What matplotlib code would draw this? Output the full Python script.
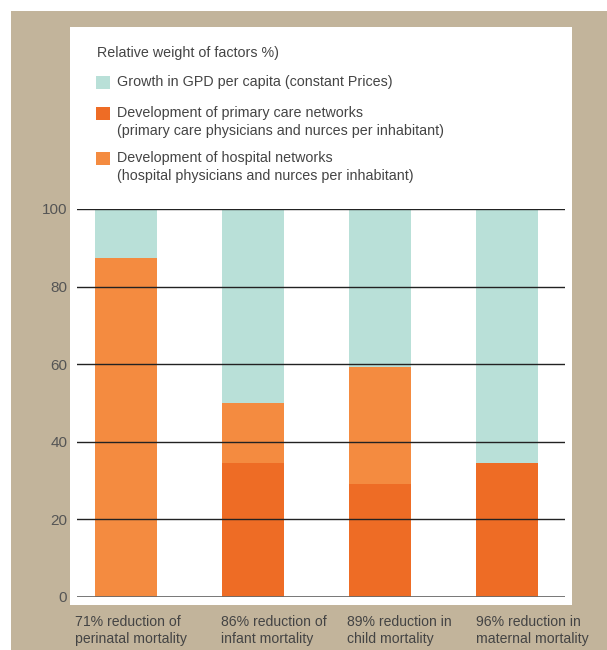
import numpy as np
import matplotlib.pyplot as plt
from matplotlib.patches import Rectangle

plt.rcParams['font.family'] = ['Liberation Sans', 'DejaVu Sans']

categories = ["71% reduction of\nperinatal mortality",
              "86% reduction of\ninfant mortality",
              "89% reduction in\nchild mortality",
              "96% reduction in\nmaternal mortality"]
primary = np.array([0, 34.5, 29, 34.5])
hospital = np.array([87.5, 15.5, 30.3, 0])
gdp = 100 - primary - hospital

series_names = ["Growth in GPD per capita (constant Prices)",
                "Development of primary care networks\n(primary care physicians and nurces per inhabitant)",
                "Development of hospital networks\n(hospital physicians and nurces per inhabitant)"]
legend_title = "Relative weight of factors %)"
yticks = [0, 20, 40, 60, 80, 100]

c_gdp = "#b9e0d8"
c_primary = "#ee6c25"
c_hospital = "#f48b40"
tan = "#c2b49b"
txt = "#444444"

W, H = 607, 650
fig = plt.figure(figsize=(W / 100, H / 100), dpi=100)
fig.patch.set_facecolor("white")

# background frame
fig.patches.append(Rectangle((11 / W, 0), 1 - 11 / W, 1 - 11 / H, transform=fig.transFigure,
                             facecolor=tan, edgecolor="none", zorder=-3))
fig.patches.append(Rectangle((70 / W, 1 - 605 / H), 502 / W, 578 / H, transform=fig.transFigure,
                             facecolor="white", edgecolor="none", zorder=-2))

ax = fig.add_axes([77 / W, 1 - 597 / H, 488 / W, 388 / H])
ax.set_facecolor("none")
x = np.arange(len(categories))
w = 0.49
ax.bar(x, primary, w, color=c_primary, zorder=1)
ax.bar(x, hospital, w, bottom=primary, color=c_hospital, zorder=1)
ax.bar(x, gdp, w, bottom=primary + hospital, color=c_gdp, zorder=1)

for yv in yticks:
    if yv == 0:
        ax.axhline(yv, color="#6a6a6a", lw=2.0, zorder=3)
    else:
        ax.axhline(yv, color="#222222", lw=1.0, zorder=3)

ax.set_xlim(-0.386, 3.457)
ax.set_ylim(0, 100)
ax.set_yticks(yticks)
ax.set_yticklabels([str(v) for v in yticks])
ax.tick_params(axis="y", length=0, pad=7, labelsize=11, labelcolor="#555555")
ax.set_xticks([])
for s in ax.spines.values():
    s.set_visible(False)

# category labels, left aligned near bar left
offsets = [-20, -1, -2, 0]
for xi, lab, off in zip(x, categories, offsets):
    ax.annotate(lab, xy=(xi - w / 2, 0), xycoords="data",
                xytext=(off * 0.72, -13), textcoords="offset points",
                ha="left", va="top", fontsize=10.1, color=txt, linespacing=1.25)

# legend
fig.text(97 / W, 1 - 53 / H, legend_title, fontsize=10.3, color=txt, va="center", ha="left")
sq = [(76, c_gdp), (107, c_primary), (152, c_hospital)]
text_y = [82, 113, 158]
for (ytop, col), ty, name in zip(sq, text_y, series_names):
    fig.patches.append(Rectangle((96 / W, 1 - (ytop + 13) / H), 14 / W, 13 / H,
                                 transform=fig.transFigure, facecolor=col, edgecolor="none"))
    fig.text(117 / W, 1 - (ty - 7) / H, name, fontsize=10.3, color=txt, va="top", ha="left",
             linespacing=1.38)

fig.savefig("out.png", dpi=100)
